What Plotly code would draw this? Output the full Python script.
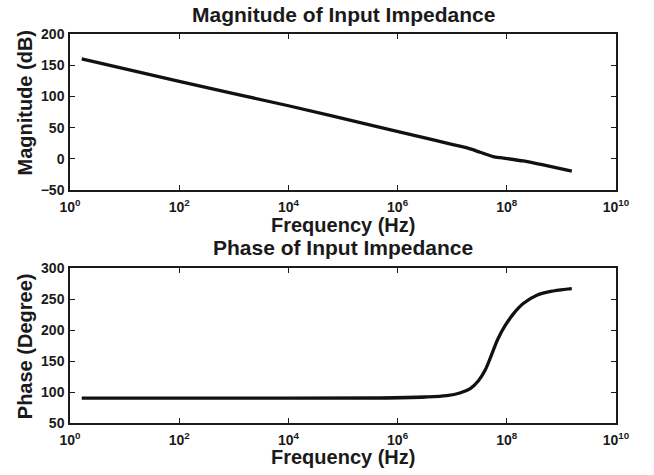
import plotly.graph_objects as go

# Input impedance: magnitude (dB) and phase (degrees) against frequency (Hz)
mag_freq_hz = [1.64, 100, 1e4, 4.79e5, 3.16e6, 7.94e6, 1.95e7, 3.24e7,
               5.62e7, 7.6e7, 1.0e8, 2.0e8, 5.37e8, 1.55e9]
mag_db = [160, 124, 85, 50.5, 33.5, 25, 17, 10.5, 3.6, 1.8, 0.4, -3.5, -11, -19.6]

phase_freq_hz = [1.64, 1e4, 4.79e5, 3.16e6, 7.94e6, 1.38e7, 2.14e7, 3.0e7,
                 4.0e7, 5.25e7, 6.9e7, 9.3e7, 1.32e8, 2.0e8, 3.55e8, 7.1e8, 1.55e9]
phase_deg = [90, 90, 90.3, 91.9, 94.2, 98.4, 105.5, 117.7, 135, 160,
             186, 207, 226, 242.6, 256, 262.9, 266.8]

x_tick_vals = [1, 1e2, 1e4, 1e6, 1e8, 1e10]
x_tick_text = ["10<sup>0</sup>", "10<sup>2</sup>", "10<sup>4</sup>",
               "10<sup>6</sup>", "10<sup>8</sup>", "10<sup>10</sup>"]
mag_ticks = [-50, 0, 50, 100, 150, 200]
phase_ticks = [50, 100, 150, 200, 250, 300]

W, H = 654, 475
FONT = "Liberation Sans, Arial, Helvetica, sans-serif"
INK = "#1a1a1a"


def px(x):
    return x / W


def py(y):
    return 1 - y / H


fig = go.Figure()
fig.add_trace(go.Scatter(x=mag_freq_hz, y=mag_db, mode="lines",
                         line=dict(color="#111111", width=3.3, shape="spline", smoothing=0.6),
                         xaxis="x", yaxis="y", showlegend=False))
fig.add_trace(go.Scatter(x=phase_freq_hz, y=phase_deg, mode="lines",
                         line=dict(color="#111111", width=3.3, shape="spline", smoothing=1.0),
                         xaxis="x2", yaxis="y2", showlegend=False))

common_x = dict(type="log", range=[0, 10], tickvals=x_tick_vals, ticktext=x_tick_text,
                ticks="inside", ticklen=5, tickwidth=1, tickcolor=INK,
                showline=True, linecolor=INK, linewidth=1.5, mirror="ticks",
                showgrid=False, zeroline=False, ticklabelstandoff=3, automargin=False,
                tickfont=dict(family=FONT, size=14, color=INK, weight="bold"),
                domain=[px(70), px(616)])
common_y = dict(ticks="inside", ticklen=5, tickwidth=1, tickcolor=INK,
                showline=True, linecolor=INK, linewidth=1.5, mirror="ticks",
                showgrid=False, zeroline=False, ticklabelstandoff=1, automargin=False,
                tickfont=dict(family=FONT, size=14, color=INK, weight="bold"))

fig.update_layout(
    width=W, height=H,
    margin=dict(l=0, r=0, t=0, b=0),
    paper_bgcolor="white", plot_bgcolor="white",
    xaxis=dict(common_x, anchor="y"),
    yaxis=dict(common_y, range=[-50, 200], tickvals=mag_ticks,
               domain=[py(190), py(34)], anchor="x"),
    xaxis2=dict(common_x, anchor="y2"),
    yaxis2=dict(common_y, range=[50, 300], tickvals=phase_ticks,
                domain=[py(423), py(268)], anchor="x2"),
)

labels = [
    ("Magnitude of Input Impedance", 343, 14, 21, 0),
    ("Frequency (Hz)", 343, 225, 20, 0),
    ("Phase of Input Impedance", 343, 247.3, 21, 0),
    ("Frequency (Hz)", 343, 457.3, 20, 0),
    ("Magnitude (dB)", 24.5, 103, 20, -90),
    ("Phase (Degree)", 24.5, 346.7, 20, -90),
]
for text, x, y, size, angle in labels:
    fig.add_annotation(text=text, x=px(x), y=py(y), xref="paper", yref="paper",
                       xanchor="center", yanchor="middle", showarrow=False,
                       textangle=angle,
                       font=dict(family=FONT, size=size, color=INK, weight="bold"))

fig.write_html("out.html")
